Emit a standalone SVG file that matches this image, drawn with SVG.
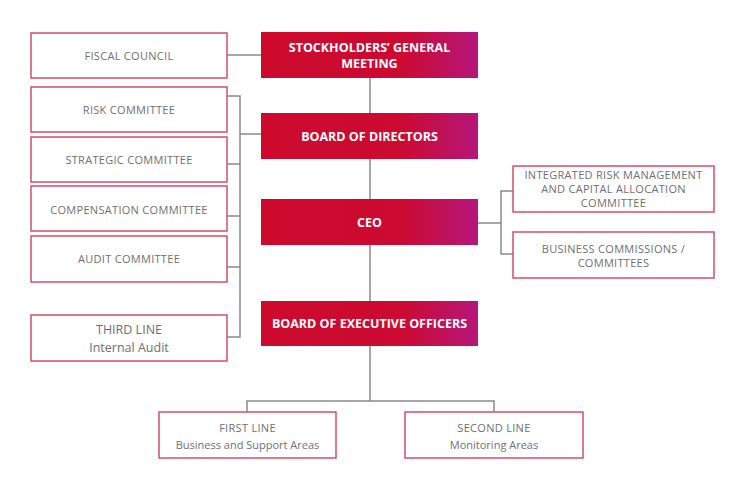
<svg xmlns="http://www.w3.org/2000/svg" width="745" height="504" viewBox="0 0 745 504">
<defs>
<linearGradient id="rg" x1="0" y1="0" x2="1" y2="0">
<stop offset="0" stop-color="#cd0a2e"/>
<stop offset="0.65" stop-color="#cc0a32"/>
<stop offset="1" stop-color="#b5167a"/>
</linearGradient>
<style>
.r{fill:url(#rg);}
.w{fill:#fff;stroke:#d44f6c;stroke-width:1.5;}
.rt{font-family:"Open Sans","Liberation Sans",sans-serif;font-weight:bold;font-size:12.5px;fill:#fff;text-anchor:middle;}
.gt{font-family:"Open Sans","Liberation Sans",sans-serif;font-size:11px;letter-spacing:0.3px;fill:#707070;text-anchor:middle;}
.gm{font-family:"Open Sans","Liberation Sans",sans-serif;font-size:11px;fill:#707070;text-anchor:middle;}
.gl{font-family:"Open Sans","Liberation Sans",sans-serif;font-size:12.5px;fill:#707070;text-anchor:middle;}
.c{fill:none;stroke:#8a8a8a;stroke-width:1.5;}
</style>
</defs>
<rect width="745" height="504" fill="#fff"/>
<g id="connectors">
<path class="c" d="M227 55H261"/>
<path class="c" d="M370 78V113"/>
<path class="c" d="M370 159V199"/>
<path class="c" d="M370 245V301"/>
<path class="c" d="M227 96H240V337H227"/>
<path class="c" d="M240 134H261"/>
<path class="c" d="M227 164H240"/>
<path class="c" d="M227 216H240"/>
<path class="c" d="M227 267H240"/>
<path class="c" d="M478 223H501"/>
<path class="c" d="M513 191H501V254H513"/>
<path class="c" d="M370 346V401"/>
<path class="c" d="M247 412V401H494V412"/>
</g>
<g id="sgm"><rect class="r" x="261" y="32" width="217" height="46"/>
<text class="rt" x="369.5" y="52">STOCKHOLDERS’ GENERAL</text>
<text class="rt" x="369.5" y="68">MEETING</text></g>
<g id="bod"><rect class="r" x="261" y="113" width="217" height="46"/>
<text class="rt" x="369.5" y="141">BOARD OF DIRECTORS</text></g>
<g id="ceo"><rect class="r" x="261" y="199" width="217" height="46"/>
<text class="rt" x="369.5" y="227">CEO</text></g>
<g id="beo"><rect class="r" x="261" y="301" width="217" height="45"/>
<text class="rt" x="369.5" y="328">BOARD OF EXECUTIVE OFFICERS</text></g>
<g id="fiscal"><rect class="w" x="31" y="33" width="196" height="45"/>
<text class="gt" x="129" y="59.5">FISCAL COUNCIL</text></g>
<g id="risk"><rect class="w" x="31" y="87" width="196" height="45"/>
<text class="gt" x="129" y="113.5">RISK COMMITTEE</text></g>
<g id="strategic"><rect class="w" x="31" y="137" width="196" height="45"/>
<text class="gt" x="129" y="164">STRATEGIC COMMITTEE</text></g>
<g id="compensation"><rect class="w" x="31" y="186" width="196" height="45"/>
<text class="gt" x="129" y="214">COMPENSATION COMMITTEE</text></g>
<g id="audit"><rect class="w" x="31" y="236" width="196" height="46"/>
<text class="gt" x="129" y="263">AUDIT COMMITTEE</text></g>
<g id="third"><rect class="w" x="31" y="315" width="196" height="46"/>
<text class="gl" x="129" y="334">THIRD LINE</text>
<text class="gl" x="129" y="351.5">Internal Audit</text></g>
<g id="irm"><rect class="w" x="513" y="166" width="201" height="46"/>
<text class="gt" x="613.5" y="179">INTEGRATED RISK MANAGEMENT</text>
<text class="gt" x="613.5" y="192.5">AND CAPITAL ALLOCATION</text>
<text class="gt" x="613.5" y="207">COMMITTEE</text></g>
<g id="business"><rect class="w" x="513" y="232" width="201" height="46"/>
<text class="gt" x="613.5" y="252.5">BUSINESS COMMISSIONS /</text>
<text class="gt" x="613.5" y="267">COMMITTEES</text></g>
<g id="first"><rect class="w" x="159" y="412" width="177" height="46"/>
<text class="gt" x="247.5" y="432">FIRST LINE</text>
<text class="gm" x="247.5" y="449">Business and Support Areas</text></g>
<g id="second"><rect class="w" x="405" y="412" width="178" height="46"/>
<text class="gt" x="494" y="432">SECOND LINE</text>
<text class="gm" x="494" y="449">Monitoring Areas</text></g>
</svg>
